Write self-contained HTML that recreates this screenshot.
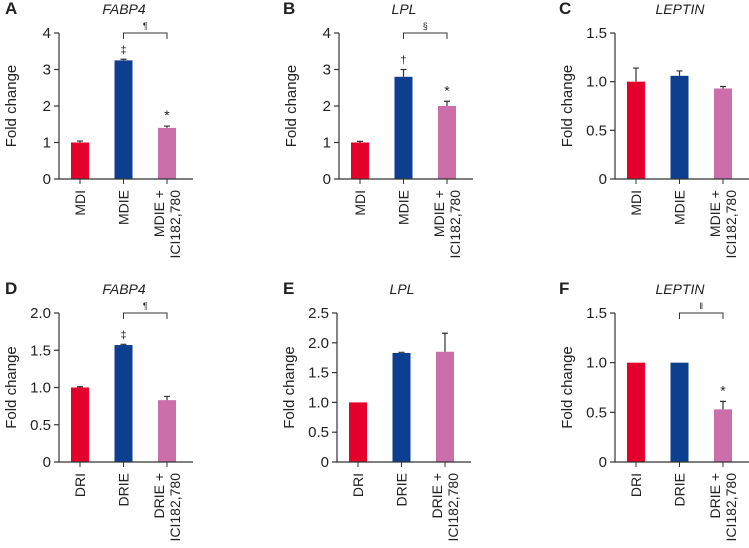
<!DOCTYPE html>
<html><head><meta charset="utf-8"><style>
html,body{margin:0;padding:0;background:#fff}
svg{display:block}
text{font-family:"Liberation Sans",sans-serif;fill:#222}
</style></head><body>
<svg id="fig" width="749" height="548" viewBox="0 0 749 548" xmlns="http://www.w3.org/2000/svg"></svg>
<script>
// ---- data ----
const topCategories = [["MDI"],["MDIE"],["MDIE +","ICI182,780"]];
const botCategories = [["DRI"],["DRIE"],["DRIE +","ICI182,780"]];
const aValues = [1.0, 3.25, 1.4];
const aErrors = [0.04, 0.03, 0.05];
const aTicks = ["0","1","2","3","4"];
const bValues = [1.0, 2.8, 2.0];
const bErrors = [0.03, 0.2, 0.13];
const bTicks = ["0","1","2","3","4"];
const cValues = [1.0, 1.06, 0.93];
const cErrors = [0.14, 0.05, 0.02];
const cTicks = ["0","0.5","1.0","1.5"];
const dValues = [1.0, 1.57, 0.83];
const dErrors = [0.01, 0.01, 0.05];
const dTicks = ["0","0.5","1.0","1.5","2.0"];
const eValues = [1.0, 1.83, 1.85];
const eErrors = [0.0, 0.01, 0.31];
const eTicks = ["0","0.5","1.0","1.5","2.0","2.5"];
const fValues = [1.0, 1.0, 0.53];
const fErrors = [0.0, 0.0, 0.08];
const fTicks = ["0","0.5","1.0","1.5"];

const colors = ["#e4002b","#0d3f91","#cc6eaa"];
const NS = "http://www.w3.org/2000/svg";
const svg = document.getElementById("fig");
function mk(tag, attrs, parent, txt){
  const e = document.createElementNS(NS, tag);
  for (const k in attrs) e.setAttribute(k, attrs[k]);
  if (txt !== undefined) e.textContent = txt;
  (parent||svg).appendChild(e);
  return e;
}

function panel(o){
  const g = mk("g", {});
  
  
  const ax = o.ax, y0 = o.y0, yt = o.yt;
  const vmax = parseFloat(o.ticks[o.ticks.length-1]);
  const ys = v => y0 - (v / vmax) * (y0 - yt);
  const xs = i => ax + 21 + i * 43.5;
  const L = mk("text", {x:o.lx, y:o.ty+5, "font-size":17, "font-weight":"bold"}, g, o.letter);
  
  
  const T = mk("text", {x:ax+65, y:o.ty+5, "font-size":14, "font-style":"italic", "text-anchor":"middle"}, g, o.title);
  
  
  const yl = mk("text", {x:0, y:0, "font-size":15, "text-anchor":"middle", transform:`translate(${ax-43},${(y0+yt)/2}) rotate(-90)`}, g, "Fold change");
  
  
  o.values.forEach((v,i)=>{
    const cx = xs(i);
    const b = mk("rect", {x:cx-9, y:ys(v), width:18, height:y0-ys(v), fill:colors[i]}, g);
    
    
    const e = o.errors[i];
    if (e > 0) {
      const ey = ys(v+e);
      const el = mk("path", {d:`M${cx},${ys(v)}V${ey}M${cx-3},${ey}H${cx+3}`, stroke:"#333", "stroke-width":1.2, fill:"none"}, g);
      
      
    }
    if (o.marks && o.marks[i]) {
      const m = mk("text", {x:cx, y:ys(v+e)-6, "font-size":o.marks[i]==="*"?14:11, "text-anchor":"middle", fill:"#444"}, g, o.marks[i]);
      
      
    }
    mk("line", {x1:cx, x2:cx, y1:y0, y2:y0+5, stroke:"#333", "stroke-width":1}, g);
    const lines = o.cats[i];
    const lab = mk("text", {"font-size":14, "text-anchor":"end", transform:`translate(${cx},${y0+11}) rotate(-90)`}, g);
    
    
    lines.forEach((t,k)=>{
      const off = lines.length===1 ? 5 : (k===0 ? -3 : 13);
      mk("tspan", {x:0, y:off}, lab, t);
    });
  });
  const axes = mk("path", {d:`M${ax},${yt}V${y0}H${ax+134}`, stroke:"#333", "stroke-width":1.2, fill:"none"}, g);
  
  
  o.ticks.forEach(t=>{
    const y = ys(parseFloat(t));
    mk("line", {x1:ax-5, x2:ax, y1:y, y2:y, stroke:"#333", "stroke-width":1.2}, g);
    const tl = mk("text", {x:ax-8, y:y+5, "font-size":15, "text-anchor":"end"}, g, t);
    
    
  });
  if (o.bracket) {
    const x1 = xs(1), x2 = xs(2), by = yt;
    const br = mk("path", {d:`M${x1},${by+6}V${by}H${x2}V${by+6}`, stroke:"#333", "stroke-width":1, fill:"none"}, g);
    
    
    const bs = mk("text", {x:(x1+x2)/2, y:by-4, "font-size":9, "text-anchor":"middle", fill:"#555"}, g, o.bracket);
    
    
  }
}

panel({letter:"A", title:"FABP4", lx:5, ty:9, ax:59, y0:179, yt:33, ticks:aTicks, values:aValues, errors:aErrors, cats:topCategories, marks:["","‡","*"], bracket:"¶"});
panel({letter:"B", title:"LPL", lx:283, ty:9, ax:339, y0:179, yt:33, ticks:bTicks, values:bValues, errors:bErrors, cats:topCategories, marks:["","†","*"], bracket:"§"});
panel({letter:"C", title:"LEPTIN", lx:559, ty:9, ax:615, y0:179, yt:33, ticks:cTicks, values:cValues, errors:cErrors, cats:topCategories});
panel({letter:"D", title:"FABP4", lx:5, ty:289, ax:59, y0:462, yt:313, ticks:dTicks, values:dValues, errors:dErrors, cats:botCategories, marks:["","‡",""], bracket:"¶"});
panel({letter:"E", title:"LPL", lx:283, ty:289, ax:337, y0:462, yt:313, ticks:eTicks, values:eValues, errors:eErrors, cats:botCategories});
panel({letter:"F", title:"LEPTIN", lx:559, ty:289, ax:615, y0:462, yt:313, ticks:fTicks, values:fValues, errors:fErrors, cats:botCategories, marks:["","","*"], bracket:"‖"});
</script>
</body></html>
